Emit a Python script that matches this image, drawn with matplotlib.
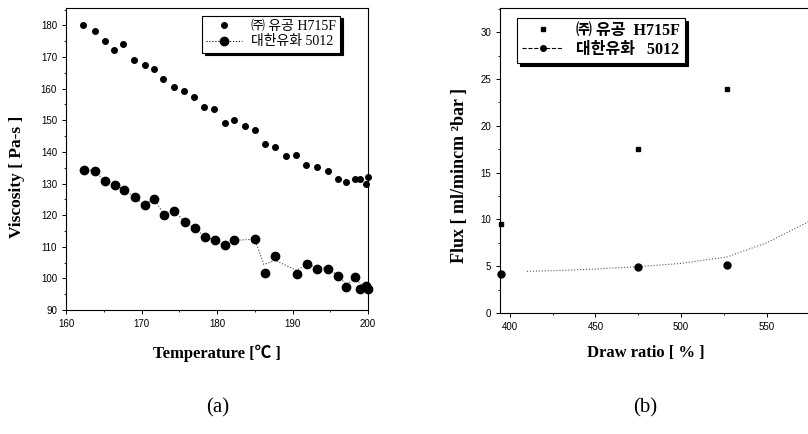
"""
Viscosity vs temperature (a) and flux vs draw ratio (b) for two resins
"""

import matplotlib
matplotlib.use('Agg')
import matplotlib.pyplot as plt
from matplotlib.lines import Line2D
from matplotlib.ticker import MultipleLocator

SERIF = ['Liberation Serif', 'Noto Sans CJK KR', 'DejaVu Sans']
TICKFONT = 'Liberation Sans'

labels = ['㈜ 유공 H715F', '대한유화 5012']
labels_b = ['㈜ 유공  H715F', '대한유화   5012']

# (a) viscosity vs temperature
h_temp = [162.3, 163.8, 165.1, 166.4, 167.6, 169.0, 170.4, 171.6, 172.9, 174.3,
          175.6, 177.0, 178.3, 179.6, 181.0, 182.3, 183.7, 185.0, 186.4, 187.7,
          189.1, 190.5, 191.8, 193.3, 194.7, 196.0, 197.1, 198.3, 198.9, 199.8, 200.0]
h_visc = [180.0, 178.1, 175.2, 172.2, 174.0, 168.9, 167.6, 166.2, 162.9, 160.5,
          159.1, 157.2, 154.3, 153.7, 149.2, 150.1, 148.2, 146.8, 142.4, 141.7,
          138.7, 138.9, 135.7, 135.3, 133.9, 131.5, 130.4, 131.5, 131.5, 130.0, 132.1]

d_temp = [162.4, 163.8, 165.1, 166.5, 167.7, 169.1, 170.4, 171.7, 173.0, 174.3,
          175.7, 177.1, 178.4, 179.7, 181.1, 182.3, 185.0, 186.4, 187.7, 190.6,
          191.9, 193.3, 194.7, 196.0, 197.1, 198.3, 199.0, 199.8, 200.0]
d_visc = [134.4, 134.0, 130.9, 129.6, 128.1, 125.6, 123.3, 125.2, 120.0, 121.4,
          117.9, 115.8, 113.1, 112.1, 110.4, 112.0, 112.4, 101.6, 107.2, 101.3,
          104.7, 103.1, 103.1, 100.7, 97.2, 100.5, 96.5, 97.6, 96.5]

# connecting line of 5012 (runs through the points, then a smoothed trace)
line_t = d_temp[:17] + [186.2, 187.7, 190.5, 191.9, 193.3, 194.7, 196.0, 197.1, 198.3, 199.2, 199.9]
line_v = d_visc[:17] + [104.4, 105.7, 102.6, 104.2, 103.7, 103.1, 100.9, 98.1, 99.9, 97.9, 96.4]

# (b) flux vs draw ratio
ratio = [395, 475, 527]
h_flux = [9.5, 17.5, 23.9]
d_flux = [4.2, 4.95, 5.15]
curve_r = [410, 430, 450, 475, 500, 527, 550, 575, 585]
curve_f = [4.45, 4.55, 4.7, 4.95, 5.3, 6.0, 7.5, 9.8, 10.8]

fig = plt.figure(figsize=(8.08, 4.34), dpi=100)

# ---------- (a) ----------
ax1 = fig.add_axes([66 / 808, 124 / 434, 302 / 808, 302 / 434])
ax1.plot(line_t, line_v, color='0.25', lw=0.8, ls=':')
ax1.plot(h_temp, h_visc, 'o', color='k', ms=4, ls='none', clip_on=False)
ax1.plot(d_temp, d_visc, 'o', color='k', ms=6, ls='none', clip_on=False)

ax1.set_xlim(160, 200)
ax1.set_ylim(90, 185.5)
ax1.xaxis.set_major_locator(MultipleLocator(10))
ax1.xaxis.set_minor_locator(MultipleLocator(5))
ax1.yaxis.set_major_locator(MultipleLocator(10))
ax1.yaxis.set_minor_locator(MultipleLocator(5))

ax1.set_xlabel('Temperature [℃ ]', family=SERIF, fontsize=12, fontweight='bold')
ax1.xaxis.set_label_coords(0.5, -0.115)
ax1.set_ylabel('Viscosity [ Pa-s ]', family=SERIF, fontsize=12.5, fontweight='bold')
ax1.yaxis.set_label_coords(-0.135, 0.44)

h1 = [Line2D([], [], marker='o', color='k', ms=4, ls='none'),
      Line2D([], [], marker='o', color='k', ms=6, ls=':', lw=0.8)]
leg1 = ax1.legend(h1, labels, loc='upper right', bbox_to_anchor=(0.907, 0.975),
                  borderaxespad=0,
                  prop={'family': SERIF, 'size': 10}, frameon=True, fancybox=False,
                  edgecolor='k', framealpha=1, shadow={'color': 'k', 'alpha': 1},
                  handlelength=2.6, borderpad=0.3, labelspacing=0.2, handletextpad=0.6)
leg1.get_frame().set_linewidth(0.8)

# ---------- (b) ----------
ax2 = fig.add_axes([500 / 808, 121 / 434, 323 / 808, 305 / 434])
ax2.plot(curve_r, curve_f, color='0.35', lw=0.8, ls=':')
ax2.plot(ratio, h_flux, 's', color='k', ms=2.5, ls='none', clip_on=False)
ax2.plot(ratio, d_flux, 'o', color='k', ms=5, ls='none', clip_on=False)

ax2.set_xlim(394.2, 583)
ax2.set_ylim(0, 32.6)
ax2.xaxis.set_major_locator(MultipleLocator(50))
ax2.xaxis.set_minor_locator(MultipleLocator(25))
ax2.yaxis.set_major_locator(MultipleLocator(5))
ax2.yaxis.set_minor_locator(MultipleLocator(2.5))

ax2.set_xlabel('Draw ratio [ % ]', family=SERIF, fontsize=12, fontweight='bold')
ax2.xaxis.set_label_coords(0.45, -0.105)
ax2.set_ylabel('Flux [ ml/mincm ²bar ]', family=SERIF, fontsize=13, fontweight='bold')
ax2.yaxis.set_label_coords(-0.10, 0.45)

h2 = [Line2D([], [], marker='s', color='k', ms=2.5, ls='none'),
      Line2D([], [], marker='o', color='k', ms=4, ls='--', lw=0.8)]
leg2 = ax2.legend(h2, labels_b, loc='upper left', bbox_to_anchor=(0.053, 0.967),
                  borderaxespad=0,
                  prop={'family': SERIF, 'size': 11.5, 'weight': 'bold'}, frameon=True,
                  fancybox=False, edgecolor='k', framealpha=1,
                  shadow={'color': 'k', 'alpha': 1},
                  handlelength=2.6, borderpad=0.3, labelspacing=0.2, handletextpad=0.8)
leg2.get_frame().set_linewidth(0.8)

for ax in (ax1, ax2):
    ax.tick_params(which='major', direction='out', length=3, width=0.7, labelsize=7)
    ax.tick_params(which='minor', direction='out', length=1.5, width=0.6)
    for lab in ax.get_xticklabels() + ax.get_yticklabels():
        lab.set_family(TICKFONT)
    for sp in ax.spines.values():
        sp.set_linewidth(0.8)

fig.text(218 / 808, 1 - 408 / 434, '(a)', family=SERIF, fontsize=15, ha='center', va='center')
fig.text(645 / 808, 1 - 408 / 434, '(b)', family=SERIF, fontsize=15, ha='center', va='center')

plt.savefig('out.png', dpi=100)
